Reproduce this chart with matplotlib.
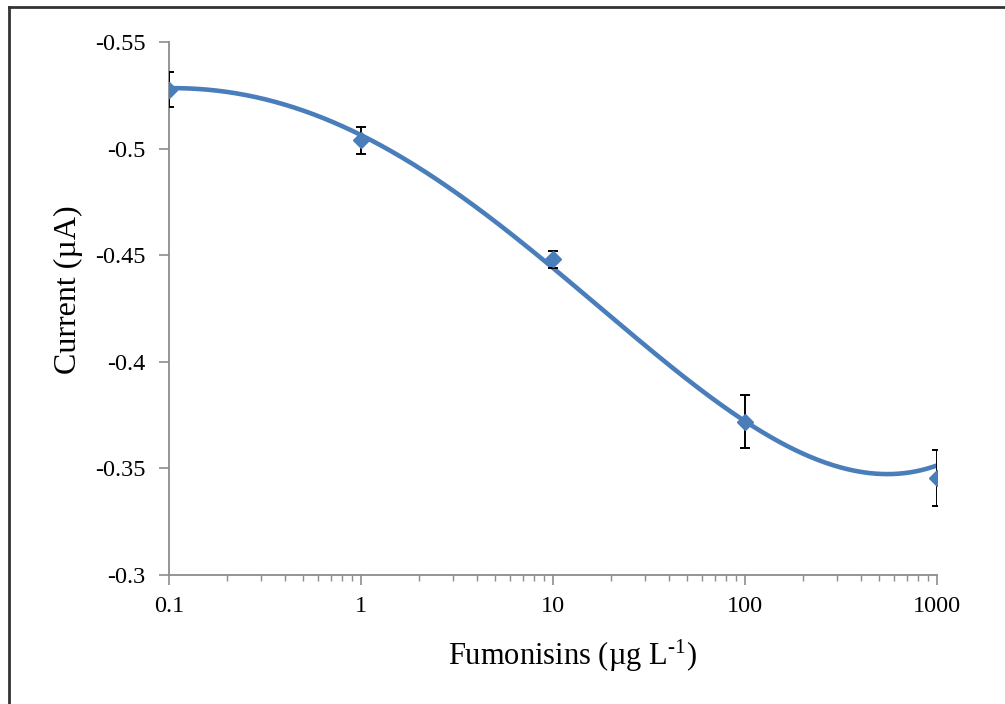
import numpy as np
import matplotlib
matplotlib.use("Agg")
import matplotlib.pyplot as plt
from matplotlib.lines import Line2D
from matplotlib.ticker import FixedLocator, LogLocator, NullFormatter

plt.rcParams['font.family'] = ['Liberation Serif', 'DejaVu Serif']
plt.rcParams['mathtext.fontset'] = 'custom'
plt.rcParams['mathtext.rm'] = 'Liberation Serif'
plt.rcParams['mathtext.it'] = 'Liberation Serif:italic'

# Fumonisin concentration (µg/L) and measured current (µA) with std. deviation
concentration = [0.1, 1, 10, 100, 1000]
current = [-0.5275, -0.504, -0.4482, -0.3718, -0.3455]
current_err = [0.0082, 0.0063, 0.0040, 0.0124, 0.0130]

# Calibration trendline samples (log10 concentration, current)
trend_log_conc = [-1.0, -0.70, -0.526, -0.266, -0.005, 0.203, 0.307, 0.552,
                  0.969, 1.245, 1.453, 1.557, 1.802, 1.990, 2.323, 2.719, 3.0]
trend_current = [-0.5278, -0.5267, -0.5243, -0.5181, -0.5059, -0.4961,
                 -0.4900, -0.4750, -0.4463, -0.4243, -0.4102, -0.4041,
                 -0.3858, -0.3718, -0.3553, -0.3464, -0.3522]

y_ticks = [-0.55, -0.5, -0.45, -0.4, -0.35, -0.3]
y_tick_labels = ["-0.55", "-0.5", "-0.45", "-0.4", "-0.35", "-0.3"]
x_ticks = [0.1, 1, 10, 100, 1000]
x_tick_labels = ["0.1", "1", "10", "100", "1000"]

blue = "#4A7EBB"
grey = "#8C8C8C"

fig = plt.figure(figsize=(10.05, 7.04), dpi=100)
ax = fig.add_axes([169 / 1005, 1 - 575 / 704, (937 - 169) / 1005, (575 - 42) / 704])

# Smooth trendline through the sampled curve
coef = np.polyfit(trend_log_conc, trend_current, 4)
xs = np.linspace(trend_log_conc[0], trend_log_conc[-1], 400)
ax.plot(10 ** xs, np.polyval(coef, xs), color=blue, lw=3.3, zorder=2,
        solid_capstyle='butt')

ax.errorbar(concentration, current, yerr=current_err, fmt='none',
            ecolor='black', elinewidth=1.4, capsize=3.4, capthick=1.4, zorder=3)
ax.plot(concentration, current, linestyle='none', marker='D', markersize=8,
        color=blue, markeredgecolor=blue, zorder=4)

ax.set_xscale('log')
ax.set_xlim(0.1, 1000)
ax.set_ylim(-0.3, -0.55)

ax.xaxis.set_major_locator(FixedLocator(x_ticks))
ax.set_xticklabels(x_tick_labels)
ax.xaxis.set_minor_locator(LogLocator(base=10, subs=np.arange(2, 10)))
ax.xaxis.set_minor_formatter(NullFormatter())
ax.yaxis.set_major_locator(FixedLocator(y_ticks))
ax.set_yticklabels(y_tick_labels)

for side in ('top', 'right'):
    ax.spines[side].set_visible(False)
for side in ('left', 'bottom'):
    ax.spines[side].set_color(grey)
    ax.spines[side].set_linewidth(1.3)

ax.tick_params(axis='both', which='major', direction='out', length=7,
               width=1.2, color=grey, labelsize=17.5, pad=8)
ax.tick_params(axis='x', which='minor', direction='out', length=4,
               width=1.0, color=grey)
ax.tick_params(axis='y', which='major', pad=10)

ax.set_xlabel(r"Fumonisins (µg L$^{\text{-1}}$)", fontsize=22)
ax.set_ylabel("Current (µA)", fontsize=23)
ax.xaxis.set_label_coords(0.525, -0.118)
ax.yaxis.set_label_coords(-0.112, 0.535)

# Frame lines around the chart area
fig.add_artist(Line2D([8.5 / 1005, 1.0], [1 - 6.5 / 704, 1 - 6.5 / 704],
                      transform=fig.transFigure, color="#333333", lw=2))
fig.add_artist(Line2D([8.5 / 1005, 8.5 / 1005], [0.0, 1 - 6.5 / 704],
                      transform=fig.transFigure, color="#333333", lw=2))

fig.savefig("out.png", dpi=100)
